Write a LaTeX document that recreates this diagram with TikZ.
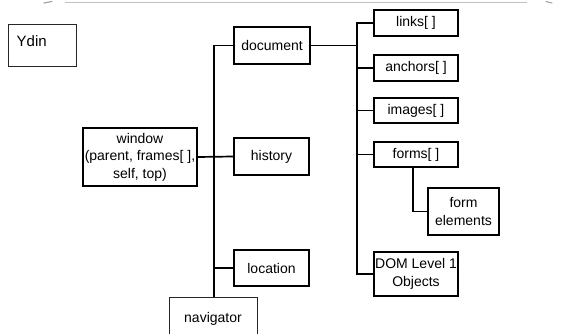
\documentclass[tikz,border=0pt]{standalone}
\usepackage{fontspec}
\setmainfont{Liberation Sans}
\begin{document}
\begin{tikzpicture}[x=1pt,y=-1pt,
  box/.style={draw=black, line width=1.7pt, rectangle, inner sep=0pt, align=center,
    font=\fontsize{14}{17.5}\selectfont},
  thinbox/.style={draw=black!85, line width=1pt, rectangle, inner sep=0pt, align=center,
    font=\fontsize{14}{17.5}\selectfont},
  conn/.style={draw=black, line width=1.7pt}]
\useasboundingbox (0,0) rectangle (575,334);
\clip (0,0) rectangle (575,334);
% top grey scan line
\draw[black!25, line width=0.8pt] (65,2) -- (527,2);
\draw[black!35, line width=1.2pt, line cap=round] (44,3) -- (52,1.5);
\draw[black!35, line width=1.2pt, line cap=round] (546,1.5) -- (552,3);
% boxes
\node[thinbox, minimum width=68, minimum height=42] (ydin) at (42,46) {};
\node[anchor=west, inner sep=0pt, font=\fontsize{15}{18}\selectfont] (ydintext) at (16.5,41.5) {Ydin};
\node[box, minimum width=76, minimum height=37] (doc) at (272,45.5) {document};
\node[box, minimum width=75, minimum height=37] (hist) at (271.5,156.5) {history};
\node[box, minimum width=75, minimum height=36] (loc) at (271.5,268) {location};
\node[box, minimum width=114, minimum height=58] (win) at (140,157) {window\\(parent, frames[ ],\\self, top)};
\node[thinbox, minimum width=88, minimum height=44] (nav) at (213,319) {navigator};
\node[box, minimum width=84, minimum height=26] (links) at (416,23) {links[ ]};
\node[box, minimum width=84, minimum height=26] (anch) at (416,68) {anchors[ ]};
\node[box, minimum width=84, minimum height=25] (imgs) at (416,110.5) {images[ ]};
\node[box, minimum width=84, minimum height=25] (forms) at (416,154.5) {forms[ ]};
\node[box, minimum width=71, minimum height=47] (formel) at (463.5,211.5) {form\\elements};
\node[box, minimum width=84, minimum height=44] (dom) at (416,274) {DOM Level 1\\Objects};
% coordinates for trunks
\coordinate (ltop) at (214,45.5);
\coordinate (rtop) at (357,23);
\coordinate (rbot) at (357,274);
\coordinate (rdoc) at (357,45.5);
% left trunk
\draw[conn] (doc.west) -- (ltop) -- (ltop |- nav.north);
\draw[conn] (win.east) -- (hist.west);
\draw[conn] (loc.west) -- (ltop |- loc.west);
% right trunk
\draw[conn] (doc.east) -- (rdoc);
\draw[conn] (links.west) -- (rtop) -- (rbot) -- (dom.west);
\draw[conn] (anch.west) -- (rtop |- anch.west);
\draw[conn] (imgs.west) -- (rtop |- imgs.west);
\draw[conn] (forms.west) -- (rtop |- forms.west);
% forms to form elements
\coordinate (fdown) at (413,211.5);
\draw[conn] (forms.south -| fdown) -- (fdown) -- (formel.west);
\end{tikzpicture}
\end{document}
